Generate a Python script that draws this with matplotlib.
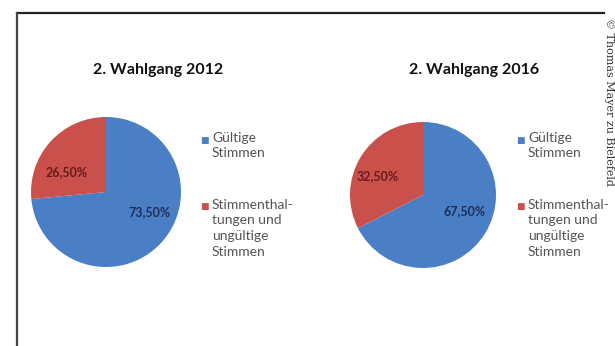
import matplotlib
matplotlib.use("Agg")
import matplotlib.pyplot as plt
import numpy as np

# ---- data ----
titles = ["2. Wahlgang 2012", "2. Wahlgang 2016"]
categories = ["Gültige\nStimmen", "Stimmenthal-\ntungen und\nungültige\nStimmen"]
values_2012 = [73.5, 26.5]
values_2016 = [67.5, 32.5]
label_2012 = ["73,50%", "26,50%"]
label_2016 = ["67,50%", "32,50%"]
credit = "© Thomas Mayer zu Bielefeld"

colors = ["#4A7FC6", "#C9504B"]
label_colors = ["#1E2F55", "#6B1A1A"]

W, H = 615, 346
fig = plt.figure(figsize=(W / 100, H / 100), dpi=100)
fig.patch.set_facecolor("white")

def px_axes(cx, cy, r):
    return fig.add_axes([(cx - r) / W, (H - cy - r) / H, 2 * r / W, 2 * r / H])

# frame lines (top and left)
fig.add_artist(plt.Line2D([16.5 / W, 604 / W], [1 - 12.5 / H, 1 - 12.5 / H],
                          transform=fig.transFigure, color="#222222", lw=1.6))
fig.add_artist(plt.Line2D([16.5 / W, 16.5 / W], [1 - 12.5 / H, 0],
                          transform=fig.transFigure, color="#444444", lw=1.6))

specs = [
    dict(vals=values_2012, labels=label_2012, title=titles[0], cx=106, cy=192, r=75,
         lab_pos=[(0.58, -0.27), (-0.53, 0.27)], tx=158, leg_x=204),
    dict(vals=values_2016, labels=label_2016, title=titles[1], cx=423, cy=195, r=73,
         lab_pos=[(0.57, -0.22), (-0.62, 0.26)], tx=474, leg_x=520),
]

for s in specs:
    ax = px_axes(s["cx"], s["cy"], s["r"])
    ax.pie(s["vals"], colors=colors, startangle=90, counterclock=False, radius=1.0,
           wedgeprops=dict(linewidth=0))
    ax.set_xlim(-1, 1)
    ax.set_ylim(-1, 1)
    ax.axis("off")
    for (x, y), lab, c in zip(s["lab_pos"], s["labels"], label_colors):
        ax.text(x, y, lab, ha="center", va="center", fontsize=9,
                fontweight="bold", color=c, family="Lato")
    # title
    fig.text(s["tx"] / W, 1 - 70 / H, s["title"], ha="center", va="center",
             fontsize=11.5, fontweight="bold", family="Lato", color="#111111")
    # legend
    ys = [140, 207]
    for cat, col, y in zip(categories, colors, ys):
        fig.text(s["leg_x"] / W, 1 - y / H, "■", ha="center", va="center",
                 fontsize=6.5, color=col, family="DejaVu Sans")
        fig.text((s["leg_x"] + 8) / W, 1 - (y - 8) / H, cat, ha="left", va="top",
                 fontsize=10, family="Lato", color="#555555", linespacing=1.35)

fig.text(609 / W, 1 - 18 / H, credit, rotation=270, ha="center", va="top",
         fontsize=8, family="DejaVu Serif", color="#333333")

fig.savefig("out.png", dpi=100, facecolor="white")
